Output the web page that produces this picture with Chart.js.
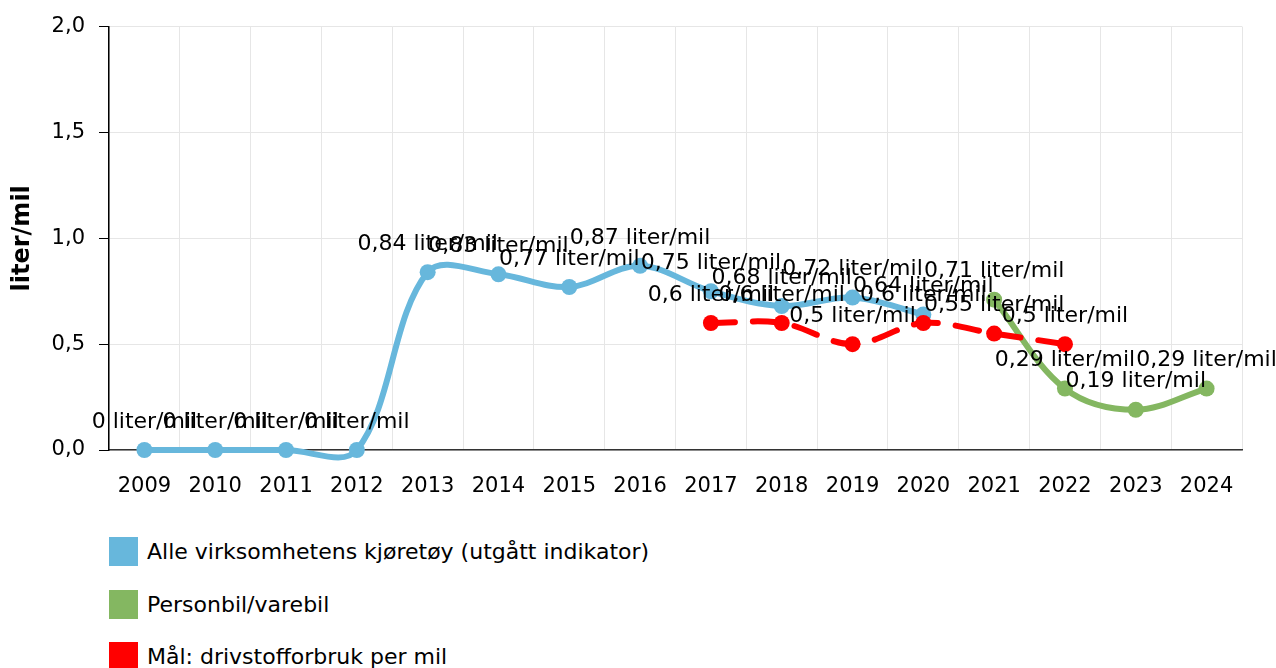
<!DOCTYPE html>
<html><head><meta charset="utf-8">
<script src="https://cdn.jsdelivr.net/npm/chart.js@4/dist/chart.umd.min.js"></script>
<style>
html,body{margin:0;padding:0;background:#fff;overflow:hidden;}
#wrap{position:relative;width:1276px;height:668px;}
#c{position:absolute;left:0;top:0;}
.leg{position:absolute;left:109px;font:22px "DejaVu Sans",sans-serif;color:#000;display:flex;align-items:center;height:30px;white-space:nowrap;}
.leg .box{display:inline-block;width:29px;height:29px;margin-right:9px;}
</style></head><body>
<div id="wrap"><canvas id="c" width="1276" height="510"></canvas><div id="legend"></div></div>
<script>
const years = ['2009','2010','2011','2012','2013','2014','2015','2016','2017','2018','2019','2020','2021','2022','2023','2024'];
const alleValues = [0,0,0,0,0.84,0.83,0.77,0.87,0.75,0.68,0.72,0.64,null,null,null,null];
const personbilValues = [null,null,null,null,null,null,null,null,null,null,null,null,0.71,0.29,0.19,0.29];
const maalValues = [null,null,null,null,null,null,null,null,0.6,0.6,0.5,0.6,0.55,0.5,null,null];
const seriesNames = ['Alle virksomhetens kjøretøy (utgått indikator)','Personbil/varebil','Mål: drivstofforbruk per mil'];
const seriesColors = ['#67b7dc','#84b761','#ff0000'];
const unitLabel = 'liter/mil';
const yMin = 0, yMax = 2, yStep = 0.5;

const FONT = '"DejaVu Sans", sans-serif';
const fmt = v => String(v).replace('.', ',');

const labelPlugin = {
  id: 'pointLabels',
  afterDatasetsDraw(chart) {
    const ctx = chart.ctx;
    ctx.save();
    ctx.font = '22px ' + FONT;
    ctx.fillStyle = '#000';
    ctx.textAlign = 'center';
    ctx.textBaseline = 'middle';
    chart.data.datasets.forEach((ds, i) => {
      const meta = chart.getDatasetMeta(i);
      meta.data.forEach((pt, j) => {
        const v = ds.data[j];
        if (v === null || v === undefined) return;
        ctx.fillText(fmt(v) + ' ' + unitLabel, pt.x, pt.y - 28);
      });
    });
    ctx.restore();
  }
};

function mk(label, data, color, extra) {
  return Object.assign({
    label, data,
    borderColor: color, backgroundColor: color,
    pointBackgroundColor: color, pointBorderColor: color,
    borderWidth: 6, pointRadius: 8, pointHoverRadius: 8, pointBorderWidth: 0,
    tension: 0.35, capBezierPoints: false, clip: false, spanGaps: false,
    borderCapStyle: 'round', borderJoinStyle: 'round'
  }, extra || {});
}

const chart = new Chart(document.getElementById('c'), {
  type: 'line',
  data: {
    labels: years,
    datasets: [
      mk(seriesNames[0], alleValues, seriesColors[0], {order: 2}),
      mk(seriesNames[1], personbilValues, seriesColors[1], {order: 1}),
      mk(seriesNames[2], maalValues, seriesColors[2], {order: 0, borderDash: [24, 18]})
    ]
  },
  options: {
    responsive: false,
    animation: false,
    events: [],
    layout: { padding: { top: 25, right: 34, left: 0, bottom: 0 } },
    plugins: { legend: { display: false }, tooltip: { enabled: false } },
    scales: {
      x: {
        offset: true,
        grid: { offset: true, color: '#e6e6e6', lineWidth: 1, drawTicks: false },
        border: { display: true, color: '#333', width: 1.5 },
        ticks: { color: '#000', font: { family: FONT, size: 21 }, padding: 24, maxRotation: 0, autoSkip: false },
        afterFit(scale) { scale.height = 60; }
      },
      y: {
        min: yMin, max: yMax,
        grid: { color: '#e6e6e6', lineWidth: 1, tickColor: '#000', tickLength: 10 },
        border: { display: true, color: '#000', width: 1.5 },
        ticks: { stepSize: yStep, color: '#000', font: { family: FONT, size: 21 }, padding: 14,
          callback: v => v.toFixed(1).replace('.', ',') },
        title: { display: true, text: unitLabel, color: '#000', font: { family: FONT, size: 24, weight: 'bold' }, padding: { top: 8, bottom: 4 } },
        afterFit(scale) { scale.width = 109; }
      }
    }
  },
  plugins: [labelPlugin]
});

const legend = document.getElementById('legend');
const legTops = [536, 589, 641];
seriesNames.forEach((n, i) => {
  const d = document.createElement('div');
  d.className = 'leg';
  d.style.top = legTops[i] + 'px';
  d.innerHTML = '<span class="box" style="background:' + seriesColors[i] + '"></span><span></span>';
  d.lastChild.textContent = n;
  legend.appendChild(d);
});
</script>
</body></html>
